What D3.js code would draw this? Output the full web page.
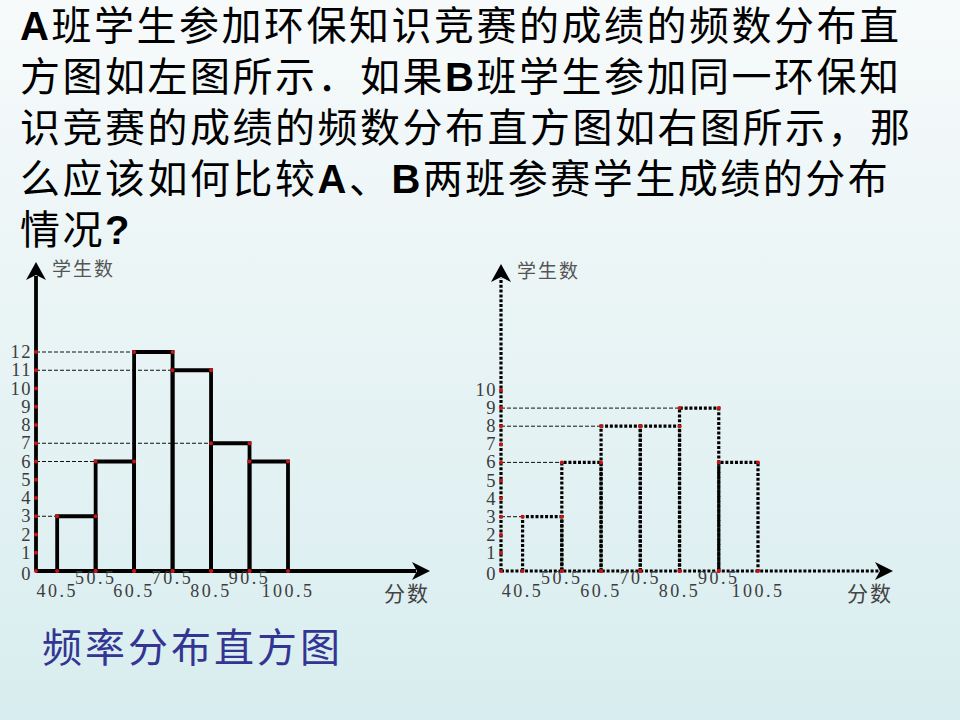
<!DOCTYPE html>
<html>
<head>
<meta charset="utf-8">
<script src="https://cdn.jsdelivr.net/npm/d3@7"></script>
<style>
  html, body { margin: 0; padding: 0; background: #eef6f7; }
  svg { display: block; }
</style>
</head>
<body>
<script>
// score bins (class boundaries) and student counts per bin
var binEdges = [40.5, 50.5, 60.5, 70.5, 80.5, 90.5, 100.5]
var countsA = [3, 6, 12, 11, 7, 6]
var countsB = [3, 6, 8, 8, 9, 6]
var yTicksA = [0, 1, 2, 3, 4, 5, 6, 7, 8, 9, 10, 11, 12]
var yTicksB = [0, 1, 2, 3, 4, 5, 6, 7, 8, 9, 10]
var edgeLabels = ["40.5", "50.5", "60.5", "70.5", "80.5", "90.5", "100.5"]

var titleLines = [
    "A班学生参加环保知识竞赛的成绩的频数分布直",
    "方图如左图所示．如果B班学生参加同一环保知",
    "识竞赛的成绩的频数分布直方图如右图所示，那",
    "么应该如何比较A、B两班参赛学生成绩的分布",
    "情况?"
]
var yAxisTitle = "学生数"
var xAxisTitle = "分数"
var caption = "频率分布直方图"

var width = 960, height = 720
var cjk = "'Noto Sans CJK SC', sans-serif"
var numFont = "'Liberation Serif', 'DejaVu Serif', serif"
var dotRed = "#c81414"

var svg = d3.select("body").append("svg")
    .attr("width", width)
    .attr("height", height)

var grad = svg.append("defs").append("linearGradient")
    .attr("id", "bg")
    .attr("x1", 0).attr("y1", 0).attr("x2", 0).attr("y2", 1)
grad.append("stop").attr("offset", "0%").attr("stop-color", "#f7fafb")
grad.append("stop").attr("offset", "45%").attr("stop-color", "#e9f4f5")
grad.append("stop").attr("offset", "100%").attr("stop-color", "#d8edef")

svg.append("rect")
    .attr("width", width)
    .attr("height", height)
    .attr("fill", "url(#bg)")

// question text, latin letters in bold
titleLines.forEach(function (line, i) {
    var t = svg.append("text")
        .attr("x", 20)
        .attr("y", 40 + i * 51)
        .attr("font-size", 40)
        .attr("letter-spacing", 2.5)
        .attr("fill", "#000")
    line.split(/([A-Za-z?]+)/).filter(function (s) { return s.length }).forEach(function (part) {
        var latin = /^[A-Za-z?]+$/.test(part)
        t.append("tspan")
            .attr("font-family", latin ? "'Liberation Sans', Arial, sans-serif" : cjk)
            .attr("font-weight", latin ? "bold" : "normal")
            .text(part)
    })
})

svg.append("text")
    .attr("x", 42)
    .attr("y", 662)
    .attr("font-family", cjk)
    .attr("font-size", 40)
    .attr("letter-spacing", 3)
    .attr("fill", "#343592")
    .text(caption)


function drawHistogram(cfg) {
    var g = svg.append("g")
    var counts = cfg.counts

    var x = d3.scaleLinear()
        .domain([35, binEdges[binEdges.length - 1]])
        .range([cfg.left, cfg.binRight])
    var y = d3.scaleLinear()
        .domain([0, cfg.yTicks[cfg.yTicks.length - 1]])
        .range([cfg.base, cfg.topTickY])

    var x0 = x(35), y0 = y(0)
    var strokeW = cfg.dotted ? 3.2 : 3.8
    var dash = cfg.dotted ? "3,1.8" : null

    // thin dashed guides from the y axis to the first bar of each height
    var seen = {}
    var guides = []
    counts.forEach(function (c, i) {
        if (!seen[c]) { seen[c] = true; guides.push({ v: c, i: i }) }
    })
    g.selectAll(".guide")
        .data(guides)
        .enter().append("line")
        .attr("class", "guide")
        .attr("x1", x0)
        .attr("x2", function (d) { return x(binEdges[d.i]) })
        .attr("y1", function (d) { return y(d.v) })
        .attr("y2", function (d) { return y(d.v) })
        .attr("stroke", "#111")
        .attr("stroke-width", 1)
        .attr("stroke-dasharray", "4,2")

    // bars
    g.selectAll(".bar")
        .data(counts)
        .enter().append("path")
        .attr("class", "bar")
        .attr("d", function (c, i) {
            return "M" + x(binEdges[i]) + "," + y0 +
                "V" + y(c) + "H" + x(binEdges[i + 1]) + "V" + y0
        })
        .attr("fill", "none")
        .attr("stroke", "#000")
        .attr("stroke-width", strokeW)
        .attr("stroke-dasharray", dash)

    // axes with arrow heads
    g.append("line")
        .attr("x1", x0).attr("y1", y0)
        .attr("x2", cfg.xArrow - 14).attr("y2", y0)
        .attr("stroke", "#000")
        .attr("stroke-width", strokeW)
        .attr("stroke-dasharray", dash)
    g.append("line")
        .attr("x1", x0).attr("y1", y0)
        .attr("x2", x0).attr("y2", cfg.yArrow + 14)
        .attr("stroke", "#000")
        .attr("stroke-width", strokeW)
        .attr("stroke-dasharray", dash)

    g.append("path")
        .attr("d", "M" + cfg.xArrow + "," + y0 +
            "L" + (cfg.xArrow - 18) + "," + (y0 - 9) +
            "L" + (cfg.xArrow - 13) + "," + y0 +
            "L" + (cfg.xArrow - 18) + "," + (y0 + 9) + "Z")
        .attr("fill", "#000")
    g.append("path")
        .attr("d", "M" + x0 + "," + cfg.yArrow +
            "L" + (x0 - 10) + "," + (cfg.yArrow + 18) +
            "L" + x0 + "," + (cfg.yArrow + 13) +
            "L" + (x0 + 10) + "," + (cfg.yArrow + 18) + "Z")
        .attr("fill", "#000")

    // red points on ticks and bar corners
    var pts = cfg.yTicks.map(function (t) { return [x0, y(t)] })
    counts.forEach(function (c, i) {
        pts.push([x(binEdges[i]), y(c)], [x(binEdges[i + 1]), y(c)],
            [x(binEdges[i]), y0], [x(binEdges[i + 1]), y0])
    })
    g.selectAll(".pt")
        .data(pts)
        .enter().append("circle")
        .attr("class", "pt")
        .attr("cx", function (d) { return d[0] })
        .attr("cy", function (d) { return d[1] })
        .attr("r", 2)
        .attr("fill", dotRed)

    // tick labels
    g.selectAll(".ylab")
        .data(cfg.yTicks)
        .enter().append("text")
        .attr("class", "ylab")
        .attr("x", x0 - 4)
        .attr("y", function (t) { return y(t) + 6 + (t === 0 ? 3 : 0) })
        .attr("text-anchor", "end")
        .attr("font-family", numFont)
        .attr("font-size", 18.5)
        .attr("letter-spacing", 1.5)
        .attr("fill", "#3c3c3c")
        .text(function (t) { return t })

    g.selectAll(".xlab")
        .data(binEdges)
        .enter().append("text")
        .attr("class", "xlab")
        .attr("x", function (e) { return x(e) })
        .attr("y", function (e, i) { return i % 2 === 0 ? y0 + 26 : y0 + 13 })
        .attr("text-anchor", "middle")
        .attr("font-family", numFont)
        .attr("font-size", 18)
        .attr("letter-spacing", 2.5)
        .attr("fill", "#3c3c3c")
        .text(function (e, i) { return edgeLabels[i] })

    g.append("text")
        .attr("x", x0 + 16)
        .attr("y", cfg.yArrow + 14)
        .attr("font-family", cjk)
        .attr("font-size", 19)
        .attr("letter-spacing", 2)
        .attr("fill", "#555")
        .text(yAxisTitle)

    g.append("text")
        .attr("x", cfg.xArrow)
        .attr("y", y0 + 30)
        .attr("text-anchor", "end")
        .attr("font-family", cjk)
        .attr("font-size", 21)
        .attr("letter-spacing", 2)
        .attr("fill", "#444")
        .text(xAxisTitle)
}

drawHistogram({
    counts: countsA, yTicks: yTicksA,
    left: 36, binRight: 288, base: 571, topTickY: 352,
    xArrow: 430, yArrow: 262, dotted: false
})

drawHistogram({
    counts: countsB, yTicks: yTicksB,
    left: 501, binRight: 758, base: 571, topTickY: 390,
    xArrow: 893, yArrow: 264, dotted: true
})
</script>
</body>
</html>
